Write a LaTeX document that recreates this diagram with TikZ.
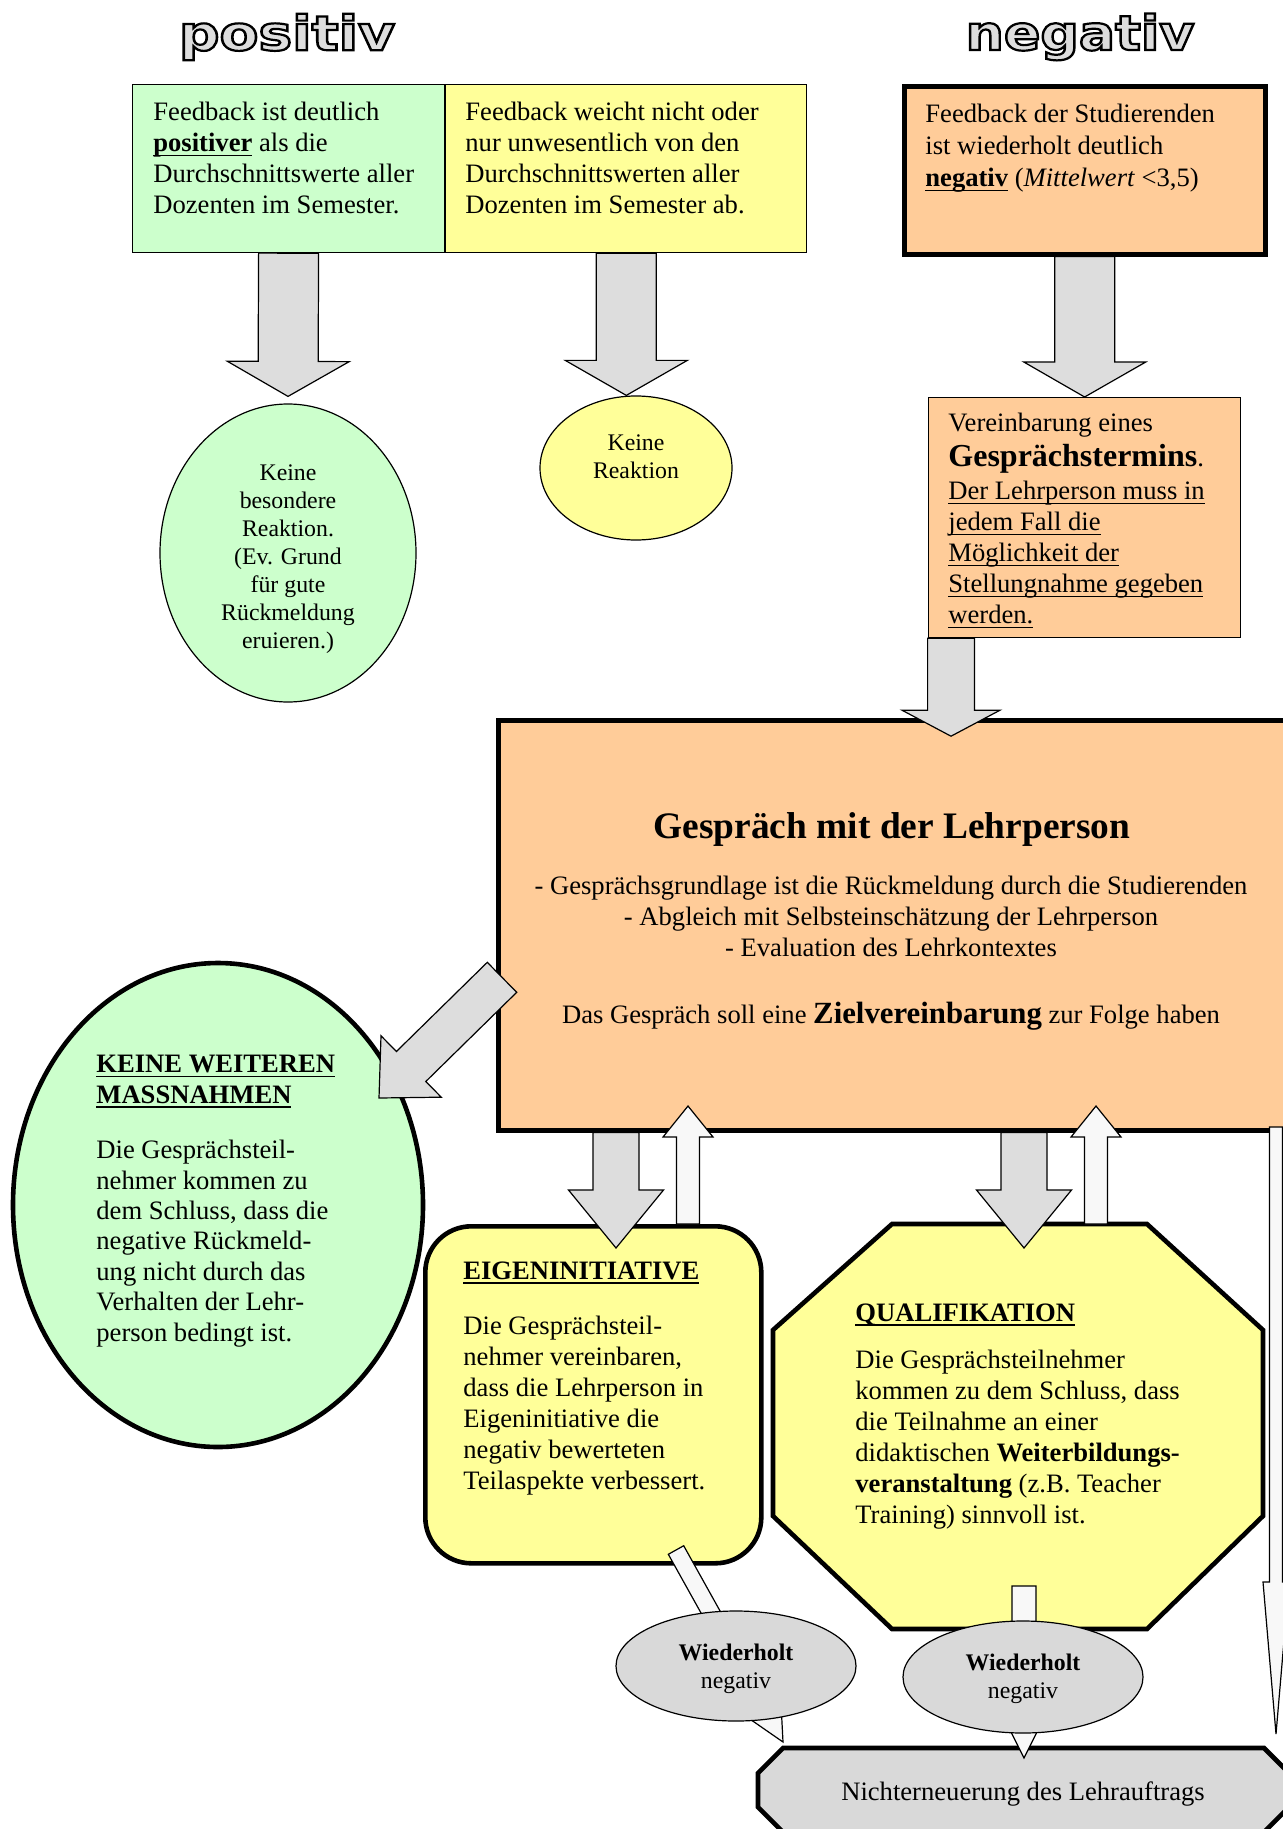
\documentclass[tikz,border=0pt]{standalone}
\usepackage{fontspec}
\setmainfont{Liberation Serif}
\newfontfamily\headfont{DejaVu Sans}
\usetikzlibrary{calc,shapes.geometric}

\newcommand{\uln}[1]{\leavevmode\setbox0\hbox{#1}\rlap{\rule[-2.3pt]{\wd0}{0.9pt}}\box0\relax}
\newcommand{\hollow}[1]{\special{pdf:literal direct 2 Tr 1.1 w 0 0 0 RG}#1\special{pdf:literal direct 0 Tr}}

\definecolor{posgreen}{HTML}{CCFFCC}
\definecolor{midyellow}{HTML}{FFFF99}
\definecolor{negorange}{HTML}{FFCC99}
\definecolor{arrowgray}{HTML}{DDDDDD}
\definecolor{arrowwhite}{HTML}{F8F8F8}
\definecolor{bubblegray}{HTML}{D9D9D9}

\tikzstyle{thinbox} = [draw, line width=0.6pt, inner sep=0pt]
\tikzstyle{thickbox} = [draw, line width=2.3pt, inner sep=0pt]
\tikzstyle{txt} = [inner sep=0pt, align=left, font=\fontsize{13.3}{15.5}\selectfont]
\tikzstyle{smalltxt} = [inner sep=0pt, align=center, font=\fontsize{11.9}{14}\selectfont]
\tikzstyle{head} = [inner sep=0pt, text=arrowgray, font=\headfont\bfseries\fontsize{24}{28}\selectfont]
\tikzstyle{grayarrow} = [draw, fill=arrowgray, line width=0.6pt, line join=miter]
\tikzstyle{whitearrow} = [draw, fill=arrowwhite, line width=0.6pt, line join=miter]

% block arrow: from, to, half shaft, half head, head length
\newcommand{\blockarrow}[6][]{%
  \coordinate (neck) at ($(#3)!#6!(#2)$);
  \draw[#1] ($(#2)!#4!90:(#3)$) -- ($(neck)!#4!90:(#3)$) -- ($(neck)!#5!90:(#3)$) -- (#3)
    -- ($(neck)!#5!-90:(#3)$) -- ($(neck)!#4!-90:(#3)$) -- ($(#2)!#4!-90:(#3)$) -- cycle;
}

\begin{document}
\begin{tikzpicture}[x=0.5pt, y=-0.5pt]
\useasboundingbox (0,0) rectangle (1283,1829);
\clip (0,0) rectangle (1283,1829);

\node[head, xscale=1.18] (poshead) at (287,37) {\hollow{positiv}};
\node[head, xscale=1.12] (neghead) at (1080,37) {\hollow{negativ}};

\node[thinbox, fill=posgreen, minimum width=156pt, minimum height=84pt, anchor=north west] (fbpos) at (132,84) {};
\node[thinbox, fill=midyellow, minimum width=180.5pt, minimum height=84pt, anchor=north west] (fbmid) at (fbpos.north east) {};
\node[thickbox, fill=negorange, minimum width=180.5pt, minimum height=84pt, anchor=north west] (fbneg) at (902,84) {};
\node[txt, anchor=north west] (fbpostxt) at (153,102) {Feedback ist deutlich\\\uln{\textbf{positiver}} als die\\Durchschnittswerte aller\\Dozenten im Semester.};
\node[txt, anchor=north west] (fbmidtxt) at (465,102) {Feedback weicht nicht oder\\nur unwesentlich von den\\Durchschnittswerten aller\\Dozenten im Semester ab.};
\node[txt, anchor=north west] (fbnegtxt) at (925,104) {Feedback der Studierenden\\[0.5pt]ist wiederholt deutlich\\[0.5pt]\uln{\textbf{negativ}} (\textit{Mittelwert} <3,5)};

\node[ellipse, thinbox, fill=posgreen, minimum width=128pt, minimum height=149pt] (keinebes) at (288,553) {};
\node[smalltxt] (keinebestxt) at (288,559) {Keine\\besondere\\Reaktion.\\(Ev. Grund\\für gute\\Rückmeldung\\eruieren.)};
\node[ellipse, thinbox, fill=midyellow, minimum width=96pt, minimum height=72pt] (keinreak) at (636,468) {};
\node[smalltxt] (keinreaktxt) at (636,457) {Keine\\Reaktion};
\node[thinbox, fill=negorange, minimum width=156pt, minimum height=120pt, anchor=north west] (verein) at (928,397) {};
\node[txt, anchor=north west] (vereintxt) at (948,413) {Vereinbarung eines\\[2pt]{\fontsize{16}{19}\selectfont\textbf{Gesprächstermins}}.\\[1pt]\uln{Der Lehrperson muss in}\\\uln{jedem Fall die}\\\uln{Möglichkeit der}\\\uln{Stellungnahme gegeben}\\\uln{werden.}};

\coordinate (postip) at ($(keinebes.north)+(0,-7)$);
\coordinate (midtip) at (fbmid.south |- keinreak.north);
\blockarrow[grayarrow]{fbpos.south}{postip}{15pt}{30.5pt}{17.5pt}
\blockarrow[grayarrow]{fbmid.south}{midtip}{15pt}{30.5pt}{17.5pt}
\blockarrow[grayarrow]{fbneg.south}{verein.north}{15pt}{30.5pt}{17.5pt}

\node[thickbox, fill=negorange, minimum width=402pt, minimum height=205pt, anchor=north west] (gespr) at (496,718) {};
\node[inner sep=0pt, font=\fontsize{18.7}{22}\selectfont\bfseries] (gesprtitle) at (892,829) {Gespräch mit der Lehrperson};
\node[txt, align=center] (gesprlist) at (891,916) {- Gesprächsgrundlage ist die Rückmeldung durch die Studierenden\\- Abgleich mit Selbsteinschätzung der Lehrperson\\- Evaluation des Lehrkontextes};
\node[txt] (gesprziel) at (891,1016) {Das Gespräch soll eine {\fontsize{15.4}{18}\selectfont\textbf{Zielvereinbarung}} zur Folge haben};

\coordinate (vtail) at ($(verein.south west)+(23,0)$);
\coordinate (vtip) at ($(vtail)+(0,98)$);
\blockarrow[grayarrow]{vtail}{vtip}{11.7pt}{24.5pt}{13pt}

\node[ellipse, thickbox, fill=posgreen, minimum width=205pt, minimum height=242pt] (keineweit) at (218,1205) {};
\node[txt, anchor=north west, font=\fontsize{13.3}{15.2}\selectfont] (keineweittxt) at (96,1055) {\uln{\textbf{KEINE WEITEREN}}\\\uln{\textbf{MASSNAHMEN}}\\[12.5pt]Die Gesprächsteil-\\nehmer kommen zu\\dem Schluss, dass die\\negative Rückmeld-\\ung nicht durch das\\Verhalten der Lehr-\\person bedingt ist.};

\coordinate (diagtail) at ($(gespr.west)+(6,52)$);
\coordinate (diagtip) at ($(keineweit.center)+(161,-107)$);
\blockarrow[grayarrow]{diagtail}{diagtip}{10.5pt}{21.5pt}{22.5pt}

\node[thickbox, fill=midyellow, rounded corners=23pt, minimum width=168pt, minimum height=168.5pt, anchor=north west] (eigen) at (423,1224) {};
\node[txt, anchor=north west] (eigentxt) at (463,1261) {\uln{\textbf{EIGENINITIATIVE}}\\[12pt]Die Gesprächsteil-\\nehmer vereinbaren,\\dass die Lehrperson in\\Eigeninitiative die\\negativ bewerteten\\Teilaspekte verbessert.};

\draw[line width=2.3pt, fill=midyellow] (892,1224) -- (1147,1224) -- (1263,1330) -- (1263,1516) -- (1147,1629) -- (892,1629) -- (773,1516) -- (773,1330) -- cycle;
\node[txt, anchor=north west] (qualitxt) at (855,1303) {\uln{\textbf{QUALIFIKATION}}\\[8pt]Die Gesprächsteilnehmer\\kommen zu dem Schluss, dass\\die Teilnahme an einer\\didaktischen \textbf{Weiterbildungs-}\\\textbf{veranstaltung} (z.B. Teacher\\Training) sinnvoll ist.};

\coordinate (eigdown) at (616,1248);
\coordinate (eigdowntail) at (eigdown |- gespr.south);
\coordinate (eigup) at (688,1224);
\coordinate (eiguptip) at (688,1106);
\coordinate (qualidown) at (1024,1248);
\coordinate (qualidowntail) at (qualidown |- gespr.south);
\coordinate (qualiup) at (1096,1224);
\coordinate (qualiuptip) at (1096,1106);
\blockarrow[grayarrow]{eigdowntail}{eigdown}{11.5pt}{23.75pt}{29pt}
\blockarrow[whitearrow]{eigup}{eiguptip}{5.75pt}{12.5pt}{15.5pt}
\blockarrow[grayarrow]{qualidowntail}{qualidown}{11.5pt}{23.75pt}{29pt}
\blockarrow[whitearrow]{qualiup}{qualiuptip}{5.75pt}{12.5pt}{15.5pt}

\draw[line width=2.3pt, fill=bubblegray] (783,1748) -- (1264,1748) -- (1289,1773) -- (1289,1807) -- (1264,1832) -- (783,1832) -- (758,1807) -- (758,1773) -- cycle;
\node[txt] (nichttxt) at (1023,1794) {Nichterneuerung des Lehrauftrags};

\coordinate (longtail) at (1276,1127);
\coordinate (longtip) at (1276,1734);
\coordinate (eigout) at (676,1550);
\coordinate (eigouttip) at (783,1742);
\coordinate (qualiout) at (1024,1586);
\coordinate (qualiouttip) at (1024,1758);
\blockarrow[whitearrow]{longtail}{longtip}{3.25pt}{6.5pt}{76pt}
\blockarrow[whitearrow]{eigout}{eigouttip}{4.4pt}{27pt}{55pt}
\blockarrow[whitearrow]{qualiout}{qualiouttip}{6pt}{15pt}{30pt}

\node[ellipse, thinbox, fill=bubblegray, minimum width=120pt, minimum height=55pt] (wiedl) at (736,1666) {};
\node[smalltxt] (wiedltxt) at (736,1669) {\textbf{Wiederholt}\\negativ};
\node[ellipse, thinbox, fill=bubblegray, minimum width=120pt, minimum height=56pt] (wiedr) at (1023,1677) {};
\node[smalltxt] (wiedrtxt) at (1023,1679) {\textbf{Wiederholt}\\negativ};
\end{tikzpicture}
\end{document}
